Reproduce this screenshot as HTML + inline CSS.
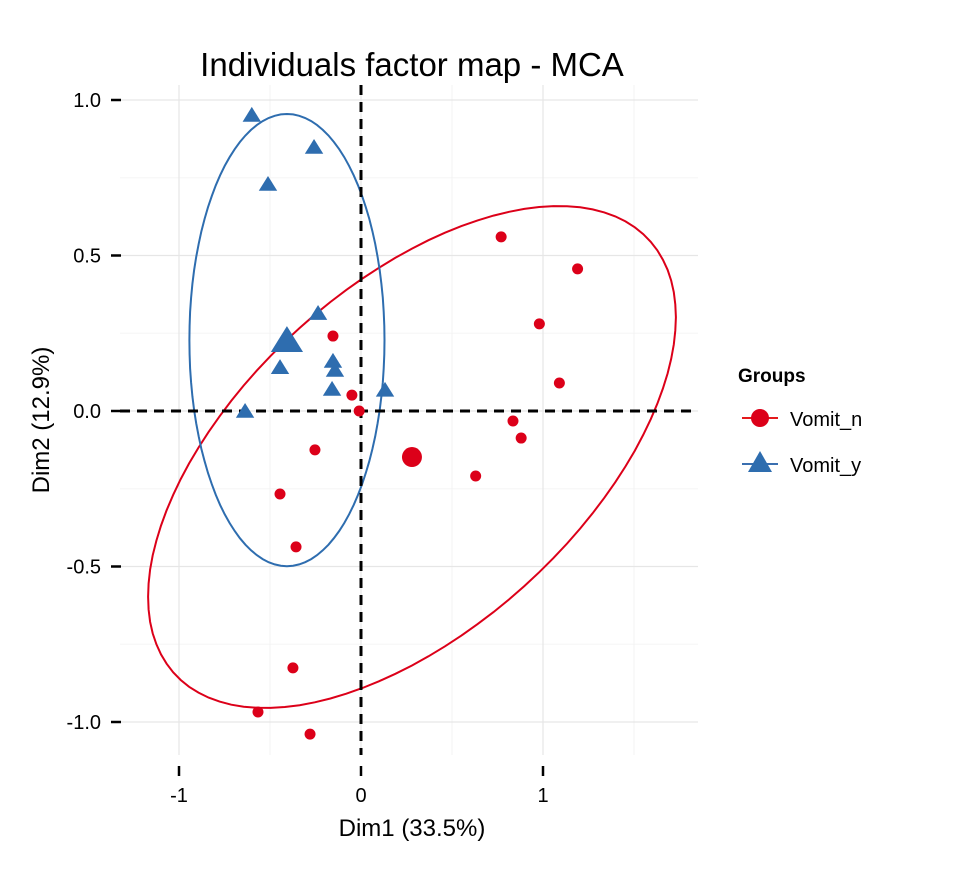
<!DOCTYPE html>
<html><head><meta charset="utf-8"><style>
body{margin:0;background:#fff;}
svg text{font-family:"Liberation Sans",sans-serif;}
</style></head><body>
<svg id="chart" width="960" height="864" xmlns="http://www.w3.org/2000/svg">
<g id="grid"></g>
<g id="ellipses"></g>
<g id="ref"></g>
<g id="pts"></g>
<g id="axes"></g>
<text x="412" y="76" font-size="33" text-anchor="middle">Individuals factor map - MCA</text>
<text x="412" y="836" font-size="24" text-anchor="middle">Dim1 (33.5%)</text>
<text transform="translate(49,420) rotate(-90)" font-size="24" text-anchor="middle">Dim2 (12.9%)</text>
<g>
<text x="738" y="382" font-size="19" font-weight="bold">Groups</text>
<g>
<line x1="742" y1="418" x2="778" y2="418" stroke="#E41A1C" stroke-width="2"/>
<circle cx="760" cy="418" r="9" fill="#DC0019"/>
<text x="790" y="426" font-size="20">Vomit_n</text></g>
<g>
<line x1="742" y1="464" x2="778" y2="464" stroke="#3A6FB0" stroke-width="2"/>
<polygon points="760,451 772,472 748,472" fill="#2E6DAF"/>
<text x="790" y="472" font-size="20">Vomit_y</text></g>
</g>
</svg>
<script>
const redX=[0.77,1.19,0.98,1.09,0.835,0.88,0.63,-0.154,-0.05,-0.01,-0.253,-0.445,-0.357,-0.374,-0.566,-0.28];
const redY=[0.56,0.457,0.28,0.09,-0.032,-0.087,-0.209,0.241,0.051,0,-0.125,-0.267,-0.437,-0.826,-0.968,-1.039];
const blueX=[-0.6,-0.258,-0.511,-0.236,-0.445,-0.154,-0.143,-0.159,0.132,-0.637];
const blueY=[0.952,0.849,0.73,0.315,0.141,0.161,0.132,0.071,0.068,0];
const redCenter=[0.28,-0.148];
const blueCenter=[-0.407,0.228];
const xTicks=[-1,0,1];
const yTicks=[1.0,0.5,0.0,-0.5,-1.0];
const yTickLabels=["1.0","0.5","0.0","-0.5","-1.0"];
const NS="http://www.w3.org/2000/svg";
const X=v=>361+182*v, Y=v=>411-311*v;
function mk(tag,attrs,parent){const e=document.createElementNS(NS,tag);for(const k in attrs)e.setAttribute(k,attrs[k]);document.getElementById(parent).appendChild(e);return e;}
[-0.75,-0.25,0.25,0.75].forEach(v=>{mk('line',{x1:120,x2:698,y1:Y(v),y2:Y(v),stroke:'#f5f5f5','stroke-width':1},'grid');});
[-0.5,0.5,1.5].forEach(v=>{mk('line',{x1:X(v),x2:X(v),y1:85,y2:755,stroke:'#f3f3f3','stroke-width':1},'grid');});
yTicks.forEach(v=>{const l=mk('line',{x1:120,x2:698,y1:Y(v),y2:Y(v),stroke:'#e6e6e6','stroke-width':1.2},'grid');
});
xTicks.forEach(v=>{const l=mk('line',{x1:X(v),x2:X(v),y1:85,y2:755,stroke:'#e6e6e6','stroke-width':1.2},'grid');
});
function ell(c,A,B,phi){let d='';for(let i=0;i<=100;i++){const t=i/100*2*Math.PI;const x=c[0]+A*Math.cos(t),y=c[1]+B*Math.cos(t-phi);d+=(i?'L':'M')+X(x).toFixed(1)+','+Y(y).toFixed(1);}return d+'Z';}
const re=mk('path',{d:ell(redCenter,1.45,0.807,0.98),fill:'none',stroke:'#DC0019','stroke-width':2},'ellipses');

const be=mk('path',{d:ell(blueCenter,0.536,0.727,Math.PI/2),fill:'none',stroke:'#2E6DAF','stroke-width':2},'ellipses');

const h=mk('line',{x1:120,x2:698,y1:Y(0),y2:Y(0),stroke:'#000','stroke-width':3,'stroke-dasharray':'10,7'},'ref');

const vl=mk('line',{x1:X(0),x2:X(0),y1:85,y2:755,stroke:'#000','stroke-width':3,'stroke-dasharray':'10,7'},'ref');

function tri(x,y,s){return `${x},${y-s} ${x+s*1.15},${y+s*0.85} ${x-s*1.15},${y+s*0.85}`;}
blueX.forEach((v,i)=>{const p=mk('polygon',{points:tri(X(v),Y(blueY[i]),8),fill:'#2E6DAF'},'pts');
});
const bc=mk('polygon',{points:tri(X(blueCenter[0]),Y(blueCenter[1]),14),fill:'#2E6DAF'},'pts');

redX.forEach((v,i)=>{const c=mk('circle',{cx:X(v),cy:Y(redY[i]),r:5.5,fill:'#DC0019'},'pts');
});
const rc=mk('circle',{cx:X(redCenter[0]),cy:Y(redCenter[1]),r:10,fill:'#DC0019'},'pts');

yTicks.forEach((v,i)=>{mk('line',{x1:111,x2:121,y1:Y(v),y2:Y(v),stroke:'#000','stroke-width':2.5},'axes');
const t=mk('text',{x:101,y:Y(v)+7,'font-size':20,'text-anchor':'end'},'axes');t.textContent=yTickLabels[i];
});
xTicks.forEach(v=>{mk('line',{x1:X(v),x2:X(v),y1:766,y2:776,stroke:'#000','stroke-width':2.5},'axes');
const t=mk('text',{x:X(v),y:802,'font-size':20,'text-anchor':'middle'},'axes');t.textContent=String(v);
});
</script>
</body></html>
